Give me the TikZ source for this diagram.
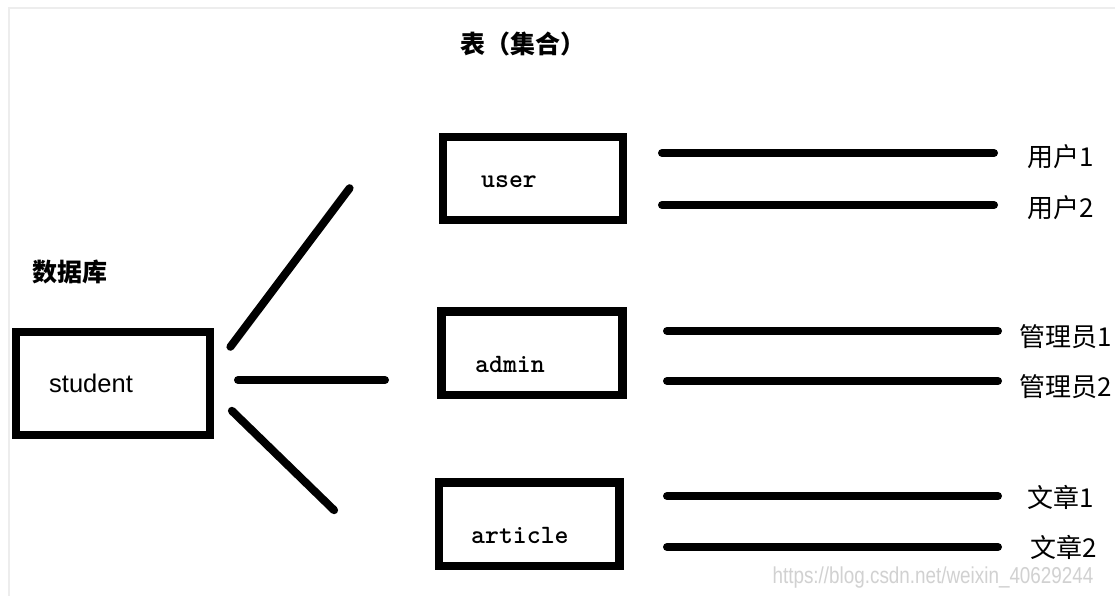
\documentclass[tikz,border=0pt]{standalone}
\usepackage{fontspec}
\usepackage{graphicx}
\newfontfamily\cjkfont{Noto Sans CJK SC}
\newfontfamily\latinsans{Liberation Sans}
\tikzset{
  frame/.style={draw=black, line width=8.5pt, inner sep=0pt},
  wire/.style={draw=black, line width=8pt, line cap=round},
  boxtext/.style={inner sep=0pt, anchor=base west, font=\ttfamily\bfseries\fontsize{26.5}{30}\selectfont},
  heading/.style={inner sep=0pt, font=\cjkfont\bfseries\fontsize{25}{30}\selectfont},
  rowlabel/.style={inner sep=0pt, anchor=west, font=\cjkfont\fontsize{26}{30}\selectfont},
}
\begin{document}
\begin{tikzpicture}[x=1pt, y=-1pt]
  \useasboundingbox (0,0) rectangle (1115,596);
  \fill[white] (0,0) rectangle (1115,596);
  % faint page edge
  \draw[black!7, line width=2pt] (9,596) -- (9,8.5) -- (1115,8.5);

  % database
  \node[heading] (dblabel) at (70,272) {数据库};
  \node[frame, minimum width=194pt, minimum height=103pt] (db) at (113,383.5) {};
  \node[inner sep=0pt, anchor=base west, font=\latinsans\fontsize{25.5}{30}\selectfont] (dbname) at (49,392) {student};

  % collections
  \node[heading] (tbllabel) at (523,44) {表（集合）};
  \node[frame, minimum width=180pt, minimum height=83pt] (user) at (533,178.5) {};
  \node[boxtext] (usertext) at (481,187) {user};
  \node[frame, minimum width=181pt, minimum height=83.5pt] (admin) at (532,353) {};
  \node[boxtext] (admintext) at (475,372) {admin};
  \node[frame, minimum width=180.5pt, minimum height=83.5pt] (article) at (529,524) {};
  \node[boxtext] (articletext) at (471,543) {article};

  % branches from the database
  \coordinate (b1s) at (230.4,346.8);
  \coordinate (b1e) at (349.6,188.2);
  \coordinate (b2s) at (238,380);
  \coordinate (b2e) at (385,380);
  \coordinate (b3s) at (231.9,410.8);
  \coordinate (b3e) at (334.1,510.2);
  \draw[wire] (b1s) -- (b1e);
  \draw[wire] (b2s) -- (b2e);
  \draw[wire] (b3s) -- (b3e);

  % documents of each collection
  \node[rowlabel] (u1) at (1027,157) {用户1};
  \node[rowlabel] (u2) at (1027,208) {用户2};
  \node[rowlabel] (a1) at (1019,337) {管理员1};
  \node[rowlabel] (a2) at (1019,387) {管理员2};
  \node[rowlabel] (r1) at (1027,497) {文章1};
  \node[rowlabel] (r2) at (1030,547) {文章2};

  \coordinate (u1s) at (662,153);  \coordinate (u1e) at (994,153);
  \coordinate (u2s) at (662,205);  \coordinate (u2e) at (994,205);
  \coordinate (a1s) at (667,331);  \coordinate (a1e) at (998,331);
  \coordinate (a2s) at (667,381);  \coordinate (a2e) at (998,381);
  \coordinate (r1s) at (667,496);  \coordinate (r1e) at (998,496);
  \coordinate (r2s) at (667,547);  \coordinate (r2e) at (998,547);
  \draw[wire] (u1s) -- (u1e);
  \draw[wire] (u2s) -- (u2e);
  \draw[wire] (a1s) -- (a1e);
  \draw[wire] (a2s) -- (a2e);
  \draw[wire] (r1s) -- (r1e);
  \draw[wire] (r2s) -- (r2e);

  % watermark
  \node[inner sep=0pt, text=black!18, font=\latinsans\fontsize{23}{26}\selectfont] (mark) at (933,578)
    {\scalebox{0.82}[1]{https://blog.csdn.net/weixin\_40629244}};
\end{tikzpicture}
\end{document}
